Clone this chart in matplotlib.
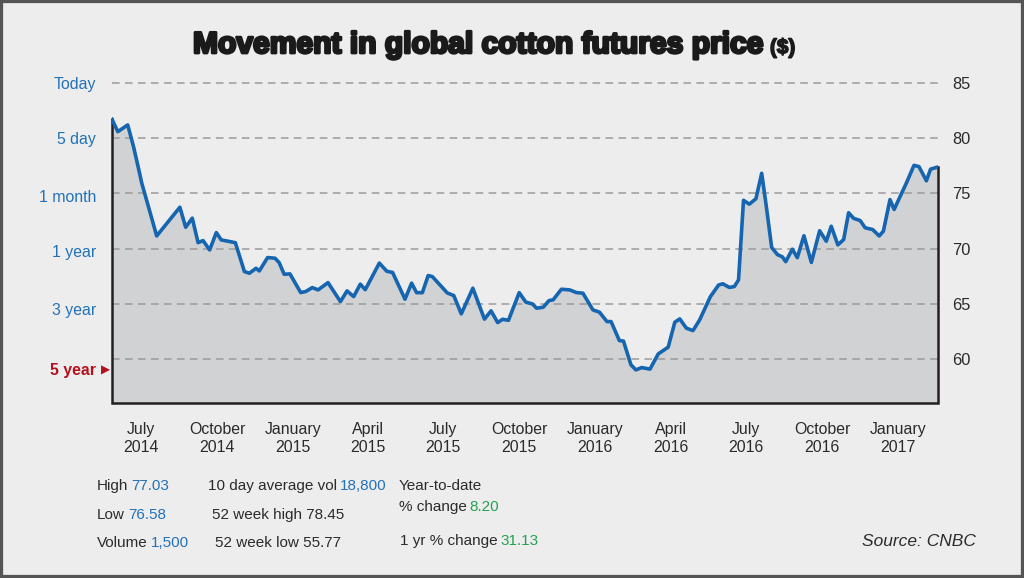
import matplotlib
matplotlib.use('Agg')
import matplotlib.pyplot as plt
import matplotlib.patheffects as pe
from matplotlib.patches import Rectangle
import pandas as pd

# cotton futures price
dates = ["2014-05-27", "2014-06-03", "2014-06-15", "2014-06-22", "2014-06-28", "2014-07-02",
         "2014-07-10", "2014-07-20", "2014-08-17", "2014-08-24", "2014-09-01", "2014-09-08",
         "2014-09-14", "2014-09-22", "2014-09-30", "2014-10-06", "2014-10-23", "2014-11-03",
         "2014-11-09", "2014-11-17", "2014-11-21", "2014-12-01", "2014-12-10", "2014-12-15",
         "2014-12-21", "2014-12-28", "2015-01-10", "2015-01-16", "2015-01-24", "2015-01-31",
         "2015-02-12", "2015-02-27", "2015-03-07", "2015-03-15", "2015-03-23", "2015-03-29",
         "2015-04-15", "2015-04-24", "2015-05-01", "2015-05-16", "2015-05-24", "2015-05-30",
         "2015-06-06", "2015-06-13", "2015-06-18", "2015-07-06", "2015-07-14", "2015-07-23",
         "2015-08-06", "2015-08-20", "2015-08-28", "2015-09-05", "2015-09-11", "2015-09-18",
         "2015-10-01", "2015-10-09", "2015-10-17", "2015-10-22", "2015-10-30", "2015-11-06",
         "2015-11-11", "2015-11-21", "2015-12-01", "2015-12-09", "2015-12-17", "2015-12-29",
         "2016-01-06", "2016-01-15", "2016-01-20", "2016-01-30", "2016-02-04", "2016-02-13",
         "2016-02-19", "2016-02-26", "2016-03-07", "2016-03-17", "2016-03-29", "2016-04-06",
         "2016-04-12", "2016-04-20", "2016-04-28", "2016-05-06", "2016-05-19", "2016-05-29",
         "2016-06-03", "2016-06-11", "2016-06-17", "2016-06-22", "2016-06-28", "2016-07-05",
         "2016-07-13", "2016-07-20", "2016-07-26", "2016-08-01", "2016-08-08", "2016-08-14",
         "2016-08-18", "2016-08-26", "2016-09-01", "2016-09-09", "2016-09-18", "2016-09-28",
         "2016-10-06", "2016-10-12", "2016-10-20", "2016-10-27", "2016-11-02", "2016-11-08",
         "2016-11-16", "2016-11-22", "2016-12-01", "2016-12-09", "2016-12-14", "2016-12-22",
         "2016-12-27", "2017-01-11", "2017-01-20", "2017-01-26", "2017-02-04", "2017-02-09",
         "2017-02-18"]
prices = [81.71, 80.59, 81.20, 79.23, 77.27, 75.91,
          73.80, 71.14, 73.74, 71.93, 72.75, 70.53,
          70.72, 69.87, 71.44, 70.78, 70.53, 67.91,
          67.76, 68.21, 67.97, 69.18, 69.12, 68.72,
          67.67, 67.70, 66.01, 66.10, 66.46, 66.25,
          66.91, 65.19, 66.16, 65.64, 66.77, 66.27,
          68.68, 67.94, 67.83, 65.41, 66.86, 66.00,
          66.00, 67.55, 67.46, 65.98, 65.73, 64.08,
          66.40, 63.60, 64.35, 63.29, 63.59, 63.49,
          66.00, 65.14, 64.98, 64.59, 64.68, 65.28,
          65.35, 66.31, 66.25, 66.01, 65.95, 64.44,
          64.23, 63.38, 63.38, 61.66, 61.61, 59.46,
          59.00, 59.21, 59.07, 60.45, 61.06, 63.32,
          63.62, 62.78, 62.56, 63.53, 65.64, 66.70,
          66.80, 66.47, 66.56, 67.16, 74.37, 74.02,
          74.51, 76.82, 73.57, 70.10, 69.45, 69.24,
          68.81, 69.94, 69.17, 71.16, 68.74, 71.61,
          70.66, 72.02, 70.33, 70.81, 73.24, 72.74,
          72.53, 71.88, 71.72, 71.14, 71.57, 74.43,
          73.54, 75.97, 77.54, 77.42, 76.14, 77.19,
          77.39]

tick_dates = ["2014-07-01", "2014-10-01", "2015-01-01", "2015-04-01", "2015-07-01", "2015-10-01",
              "2016-01-01", "2016-04-01", "2016-07-01", "2016-10-01", "2017-01-01"]
tick_labels = ["July\n2014", "October\n2014", "January\n2015", "April\n2015", "July\n2015",
               "October\n2015", "January\n2016", "April\n2016", "July\n2016", "October\n2016",
               "January\n2017"]
price_ticks = [60, 65, 70, 75, 80, 85]
range_labels = ["Today", "5 day", "1 month", "1 year", "3 year", "5 year"]
range_y = [85, 140, 198, 252, 311, 370]  # pixel rows of the range buttons

BG = '#ededed'
BLUE = '#2272b8'
GREEN = '#25a050'
RED = '#b3121c'
INK = '#2b2b2b'

plt.rcParams['font.family'] = ['Liberation Sans', 'DejaVu Sans']
plt.rcParams['font.size'] = 11

W, H = 1024, 578
fig = plt.figure(figsize=(W / 100, H / 100), dpi=100, facecolor=BG)
ax = fig.add_axes([112 / W, 1 - 403 / H, (938 - 112) / W, (403 - 83) / H])
ax.set_facecolor(BG)

x = pd.to_datetime(dates)
base = 56
ax.fill_between(x, prices, base, color='#d1d2d4', lw=0, zorder=1)
for p in price_ticks:
    ax.axhline(p, color='#9b9b9b', lw=1.1, dashes=(5, 3.5), zorder=2, clip_on=False)
ax.plot(x, prices, color='#1565b0', lw=2.6, solid_joinstyle='round', zorder=4)
# dark outline on left, bottom and right of the shaded area
ax.plot([x[0], x[0], x[-1], x[-1]], [prices[0], base, base, prices[-1]],
        color='#231f20', lw=1.8, zorder=3, clip_on=False, solid_joinstyle='miter')

ax.set_xlim(x[0], x[-1])
ax.set_ylim(base, 85)
for s in ax.spines.values():
    s.set_visible(False)
ax.set_xticks(pd.to_datetime(tick_dates))
ax.set_xticklabels(tick_labels, linespacing=1.2)
ax.set_yticks(price_ticks)
ax.yaxis.tick_right()
ax.tick_params(axis='x', length=0, pad=14, colors=INK, labelsize=11.4)
ax.tick_params(axis='y', length=0, pad=10, colors=INK, labelsize=11.8)

# range buttons on the left
for lab, py in zip(range_labels, range_y):
    if lab == "5 year":
        fig.text(96 / W, 1 - py / H, lab, ha='right', va='center', color=RED,
                 fontweight='bold', fontsize=11.4)
        fig.text(101 / W, 1 - py / H, '\u25B6', ha='left', va='center', color=RED,
                 fontsize=8.5, family='DejaVu Sans')
    else:
        fig.text(96 / W, 1 - py / H, lab, ha='right', va='center', color=BLUE, fontsize=11.4)

# title, sized so that it spans the same width as in the reference
t = fig.text(193 / W, 1 - 45 / H, "Movement in global cotton futures price", ha='left',
             va='center', fontsize=24, fontweight='bold', color='#1a1a1a',
             path_effects=[pe.withStroke(linewidth=2.0, foreground='#1a1a1a')])
fig.canvas.draw()
bb = t.get_window_extent()
t.set_fontsize(24 * 572 / bb.width)
fig.canvas.draw()
bb = t.get_window_extent()
fig.text((bb.x1 + 7) / W, 1 - 48 / H, "($)", ha='left', va='center', fontsize=15,
         fontweight='bold', color='#1a1a1a',
         path_effects=[pe.withStroke(linewidth=1.0, foreground='#1a1a1a')])


def pair(px, py, a, b, col):
    # dark caption followed by a coloured value
    tt = fig.text(px / W, 1 - py / H, a, ha='left', va='center', color=INK)
    fig.canvas.draw()
    e = tt.get_window_extent()
    if b:
        fig.text((e.x1 + 3) / W, 1 - py / H, b, ha='left', va='center', color=col)


pair(97, 486, "High", "77.03", BLUE)
pair(97, 515, "Low", "76.58", BLUE)
pair(97, 543, "Volume", "1,500", BLUE)
pair(208, 486, "10 day average vol", "18,800", BLUE)
pair(212, 515, "52 week high 78.45", "", BLUE)
pair(215, 543, "52 week low 55.77", "", BLUE)
pair(399, 486, "Year-to-date", "", GREEN)
pair(399, 507, "% change", "8.20", GREEN)
pair(400, 541, "1 yr % change", "31.13", GREEN)
fig.text(976 / W, 1 - 542 / H, "Source: CNBC", ha='right', va='center', style='italic',
         color=INK, fontsize=12.5)

fig.patches.append(Rectangle((0, 0), 1, 1, transform=fig.transFigure, fill=False,
                             edgecolor='#555555', lw=4.5))

fig.savefig('out.png', dpi=100, facecolor=BG)
